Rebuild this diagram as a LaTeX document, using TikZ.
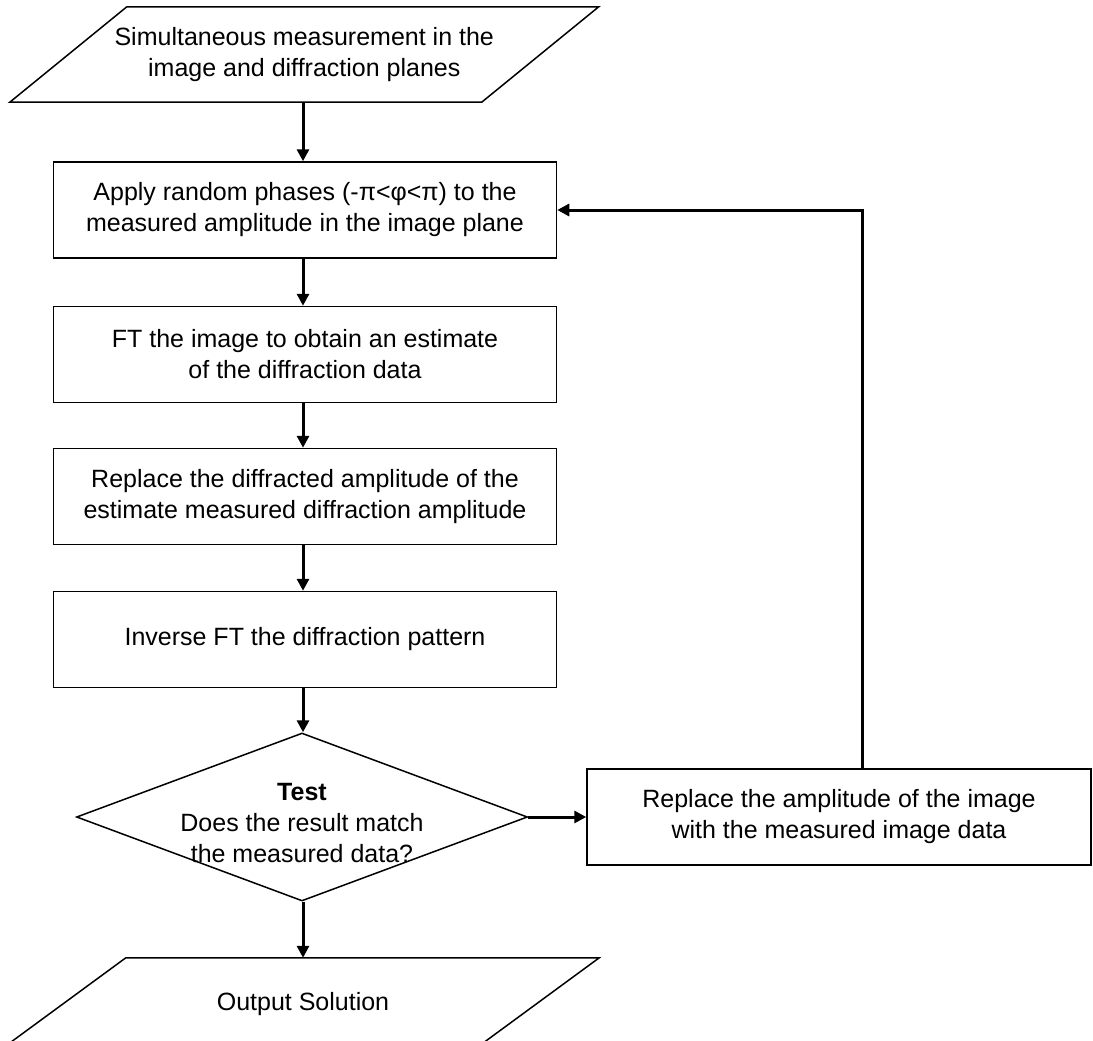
\documentclass[tikz,border=0pt]{standalone}
\usepackage{fontspec}
\setmainfont{Liberation Sans}
\usetikzlibrary{shapes.geometric, arrows.meta}

\begin{document}
\begin{tikzpicture}[x=1pt,y=-1pt,
        every node/.style={font=\fontsize{25}{31}\selectfont},
        stepbox/.style={draw,line width=1.5pt,rectangle,minimum width=503pt,
            minimum height=96pt,inner sep=0pt,align=center},
        iobox/.style={rectangle,minimum height=95pt,inner sep=0pt,align=center},
        outline/.style={line width=1.5pt,line join=miter},
        flow/.style={line width=3pt,-{Triangle[length=12pt,width=12pt]}}]
        \useasboundingbox (0,0) rectangle (1093,1041);
        % main column
        \node[iobox,minimum width=471.5pt] (input) at (304.25,54.5)
            {Simultaneous measurement in the\\image and diffraction planes};
        \draw[outline] ([xshift=58.5pt]input.north west) -- ([xshift=58.5pt]input.north east)
            -- ([xshift=-58.5pt]input.south east) -- ([xshift=-58.5pt]input.south west) -- cycle;
        \node[stepbox] (phases) at (305,210)
            {Apply random phases (-π<φ<π) to the\\measured amplitude in the image plane};
        \node[stepbox] (ft) at (305,354.5)
            {FT the image to obtain an estimate\\of the diffraction data};
        \node[stepbox] (replace) at (305,496.5)
            {Replace the diffracted amplitude of the\\estimate measured diffraction amplitude};
        \node[stepbox] (inverse) at (305,639.5) {Inverse FT the diffraction pattern};
        \node[draw,line width=1.5pt,diamond,minimum width=451pt,minimum height=168pt,
            inner sep=0pt] (test) at (302,817) {};
        \node[align=center] (testlabel) at (302,823)
            {\textbf{Test}\\Does the result match\\the measured data?};
        \node[iobox,minimum width=473pt] (output) at (297.5,1005.5) {};
        \node (outlabel) at (303,1004) {Output Solution};
        \draw[outline] ([xshift=65pt]output.north west) -- ([xshift=65pt]output.north east)
            -- ([xshift=-65pt]output.south east) -- ([xshift=-65pt]output.south west) -- cycle;
        % feedback
        \node[stepbox,minimum width=504pt] (update) at (839,817)
            {Replace the amplitude of the image\\with the measured image data};
        \coordinate (turn) at (862,0);

        \draw[flow] (303,0 |- input.south) -- (303,0 |- phases.north);
        \foreach \a/\b in {phases/ft, ft/replace, replace/inverse, inverse/test, test/output}
        \draw[flow] (303,0 |- \a.south) -- (303,0 |- \b.north);
        \draw[flow] (test.east) -- (test.east -| update.west);
        \draw[flow] (update.north -| turn) |- (phases.east);
    \end{tikzpicture}
\end{document}
